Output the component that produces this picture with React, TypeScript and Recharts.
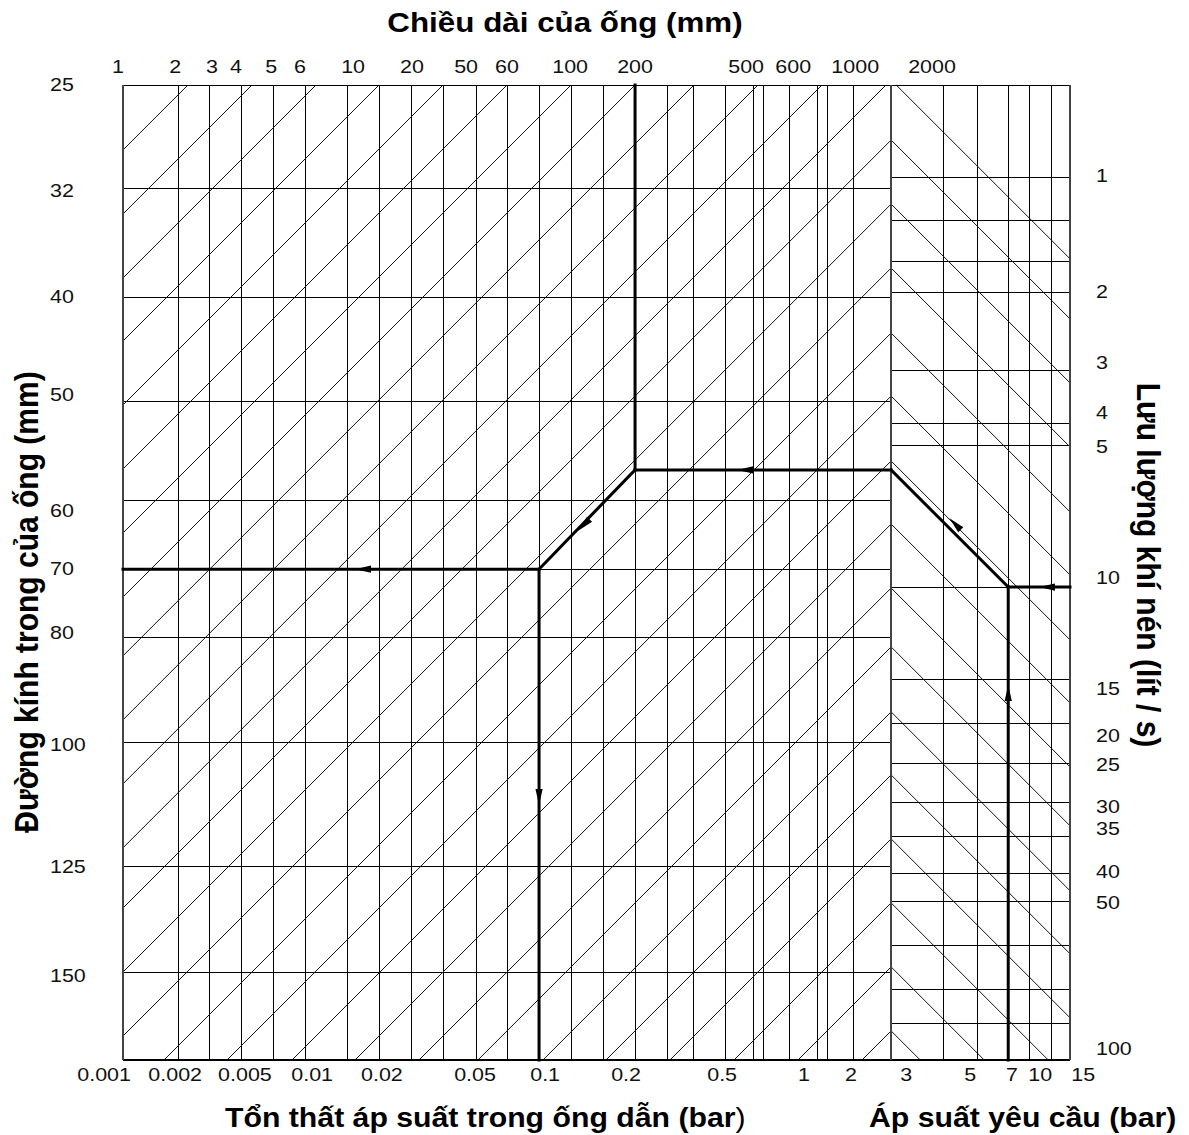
import React from 'react';
import { ComposedChart, XAxis, YAxis, ReferenceLine, ReferenceDot, Scatter } from 'recharts';

// ---------- layout ----------
const CHART_W = 1189;
const CHART_H = 1135;
const MARGIN = { top: 85, right: 119, bottom: 75, left: 123 };
// nomogram units: one grid cell = 1 unit
const X_MAX = 29.59;
const Y_MAX = 30.47;
const DIVIDER = 24;
const FONT = '"Liberation Sans", Arial, Helvetica, sans-serif';
const STRETCH = 1.13;

// ---------- scale labels (position on the nomogram, label text) ----------
const lengthLabels = ['1', '2', '3', '4', '5', '6', '10', '20', '50', '60', '100', '200', '500', '600', '1000', '2000'];
const lengthPos = [-0.16, 1.63, 2.78, 3.53, 4.63, 5.53, 7.19, 9.03, 10.72, 12.0, 13.97, 16.0, 19.47, 20.94, 22.88, 25.28];

const dropLabels = ['0.001', '0.002', '0.005', '0.01', '0.02', '0.05', '0.1', '0.2', '0.5', '1', '2'];
const dropPos = [-0.59, 1.63, 3.81, 5.91, 8.09, 11.0, 13.19, 15.72, 18.72, 21.28, 22.75];

const pressureLabels = ['3', '5', '7', '10', '15'];
const pressurePos = [24.47, 26.47, 27.78, 28.66, 30.0];

const diameterLabels = ['25', '32', '40', '50', '60', '70', '80', '100', '125', '150'];
const diameterPos = [-0.03, 3.28, 6.59, 9.66, 13.28, 15.09, 17.09, 20.59, 24.41, 27.81];

const flowLabels = ['1', '2', '3', '4', '5', '10', '15', '20', '25', '30', '35', '40', '50', '100'];
const flowPos = [2.81, 6.44, 8.66, 10.22, 11.28, 15.38, 18.84, 20.31, 21.22, 22.53, 23.22, 24.56, 25.53, 30.09];

// ---------- grid lines ----------
const lengthLines = [1.72, 2.69, 3.69, 4.69, 5.69, 7.03, 8, 9.03, 10, 11.03, 12, 13, 14, 15, 16, 17, 17.84, 18.84, 19.69, 20, 20.84, 21.69, 22, 22.84];
const diameterLines = [3.22, 6.63, 9.88, 12.97, 15.13, 17.28, 20.56, 24.41, 27.72];
const pressureLines = [25.63, 26.69, 27.66, 28.34, 29.0];
const flowLines = [2.88, 4.25, 5.53, 6.47, 8.91, 10.59, 11.28, 15.69, 18.59, 19.94, 21.19, 22.41, 23.5, 24.63, 25.53, 26.88, 28.28, 29.34];
// diagonal families: x + y = sum (left panel), mirrored at the divider (right panel)
const diagonalSums = [2.03, 4.03, 6.03, 8.0, 10.0, 12.0, 14.0, 16.0, 17.84, 19.84, 21.84, 23.84, 25.72, 27.72, 29.72, 31.75, 33.72, 35.75, 37.72, 39.72, 41.56, 43.59, 45.56, 47.56, 49.56, 51.56, 53.56];

// ---------- worked example route ----------
const routeFlow = 15.69;      // 10 l/s
const routePressure = 27.66;  // 7 bar
const routeTurn = 12.03;
const routeLength = 16;       // 200 m
const routeDiameter = 15.13;  // 70 mm
const routeDrop = 13;         // 0.1 bar
const arrows = [
  { x: 28.87, y: routeFlow, angle: 180 },
  { x: routePressure, y: 19.0, angle: -90 },
  { x: 26.0, y: 13.72, angle: 225 },
  { x: 19.44, y: routeTurn, angle: 180 },
  { x: 14.4, y: 13.75, angle: 135 },
  { x: 7.5, y: routeDiameter, angle: 180 },
  { x: routeDrop, y: 22.25, angle: 90 },
];

type P = { x: number; y: number };
type Seg = { a: P; b: P; stroke: string; w: number; crisp: boolean };

const GRID = '#000';
const FRAME = '#444';
const DIAG = '#111';
const segs: Seg[] = [];
lengthLines.forEach((x) => segs.push({ a: { x, y: 0 }, b: { x, y: Y_MAX }, stroke: GRID, w: 1, crisp: true }));
diameterLines.forEach((y) => segs.push({ a: { x: 0, y }, b: { x: DIVIDER, y }, stroke: GRID, w: 1, crisp: true }));
pressureLines.forEach((x) => segs.push({ a: { x, y: 0 }, b: { x, y: Y_MAX }, stroke: GRID, w: 1, crisp: true }));
flowLines.forEach((y) => segs.push({ a: { x: DIVIDER, y }, b: { x: X_MAX, y }, stroke: GRID, w: 1, crisp: true }));
diagonalSums.forEach((c) => {
  const x0 = Math.max(0, c - Y_MAX);
  const x1 = Math.min(DIVIDER, c);
  segs.push({ a: { x: x0, y: c - x0 }, b: { x: x1, y: c - x1 }, stroke: DIAG, w: 1, crisp: false });
  if (c > DIVIDER - 0.5) {
    const peak = c - DIVIDER;
    const start = peak < 0 ? { x: DIVIDER - peak, y: 0 } : { x: DIVIDER, y: peak };
    let endY = peak + (X_MAX - DIVIDER);
    let endX = X_MAX;
    if (endY > Y_MAX) {
      endX = DIVIDER + (Y_MAX - peak);
      endY = Y_MAX;
    }
    segs.push({ a: start, b: { x: endX, y: endY }, stroke: DIAG, w: 1, crisp: false });
  }
});
// frame
segs.push({ a: { x: 0, y: 0 }, b: { x: X_MAX, y: 0 }, stroke: GRID, w: 1, crisp: true });
segs.push({ a: { x: 0, y: Y_MAX }, b: { x: X_MAX, y: Y_MAX }, stroke: GRID, w: 1.5, crisp: true });
segs.push({ a: { x: 0, y: 0 }, b: { x: 0, y: Y_MAX }, stroke: FRAME, w: 2, crisp: true });
segs.push({ a: { x: X_MAX, y: 0 }, b: { x: X_MAX, y: Y_MAX }, stroke: FRAME, w: 2, crisp: true });
segs.push({ a: { x: DIVIDER, y: 0 }, b: { x: DIVIDER, y: Y_MAX }, stroke: FRAME, w: 2, crisp: true });

const routeSegs: [P, P][] = [
  [{ x: X_MAX, y: routeFlow }, { x: routePressure, y: routeFlow }],
  [{ x: routePressure, y: Y_MAX }, { x: routePressure, y: routeFlow }],
  [{ x: routePressure, y: routeFlow }, { x: DIVIDER, y: routeTurn }],
  [{ x: DIVIDER, y: routeTurn }, { x: routeLength, y: routeTurn }],
  [{ x: routeLength, y: routeTurn }, { x: routeLength, y: 0 }],
  [{ x: routeLength, y: routeTurn }, { x: routeDrop, y: routeDiameter }],
  [{ x: routeDrop, y: routeDiameter }, { x: 0, y: routeDiameter }],
  [{ x: routeDrop, y: routeDiameter }, { x: routeDrop, y: Y_MAX }],
];

// ---------- renderers ----------
const tickText = (x: number, y: number, label: string, anchor: 'start' | 'middle' | 'end') => (
  <text
    x={0}
    y={0}
    dy="0.36em"
    transform={`translate(${x},${y}) scale(${STRETCH},1)`}
    textAnchor={anchor}
    fontSize={19}
    fontFamily={FONT}
    fill="#111"
  >
    {label}
  </text>
);

type LabelSpec = { x: number; y: number; label: string; dx: number; dy: number; anchor: 'start' | 'middle' };
const labelSpecs: LabelSpec[] = [
  ...lengthPos.map((x, i) => ({ x, y: 0, label: lengthLabels[i], dx: 0, dy: -19, anchor: 'middle' as const })),
  ...dropPos.map((x, i) => ({ x, y: Y_MAX, label: dropLabels[i], dx: 0, dy: 14, anchor: 'middle' as const })),
  ...pressurePos.map((x, i) => ({ x, y: Y_MAX, label: pressureLabels[i], dx: 0, dy: 14, anchor: 'middle' as const })),
  ...diameterPos.map((y, i) => ({ x: 0, y, label: diameterLabels[i], dx: -73, dy: 0, anchor: 'start' as const })),
  ...flowPos.map((y, i) => ({ x: X_MAX, y, label: flowLabels[i], dx: 26, dy: 0, anchor: 'start' as const })),
];

const ArrowHead = (props: any) => {
  const { cx, cy, payload } = props;
  if (cx == null || cy == null) return <g />;
  return <polygon points="8,0 -8,-3.6 -8,3.6" fill="#000" transform={`translate(${cx},${cy}) rotate(${payload.angle})`} />;
};

export default function App() {
  return (
    <div style={{ position: 'absolute', left: 0, top: 0, width: CHART_W, height: CHART_H, background: '#fff' }}>
      <ComposedChart width={CHART_W} height={CHART_H} margin={MARGIN}>
        <XAxis type="number" dataKey="x" domain={[0, X_MAX]} allowDataOverflow hide />
        <YAxis type="number" dataKey="y" domain={[0, Y_MAX]} allowDataOverflow reversed hide />

        {segs.map((s, i) => (
          <ReferenceLine
            key={`g${i}`}
            segment={[s.a, s.b]}
            stroke={s.stroke}
            strokeWidth={s.w}
            shapeRendering={s.crisp ? 'crispEdges' : 'auto'}
            ifOverflow="visible"
          />
        ))}
        {routeSegs.map((s, i) => (
          <ReferenceLine key={`r${i}`} segment={s} stroke="#000" strokeWidth={3} strokeLinecap="square" ifOverflow="visible" />
        ))}
        <Scatter data={arrows} shape={ArrowHead} isAnimationActive={false} />
        {labelSpecs.map((l, i) => (
          <ReferenceDot
            key={`l${i}`}
            x={l.x}
            y={l.y}
            r={0}
            ifOverflow="visible"
            shape={(p: any) => tickText(p.cx + l.dx, p.cy + l.dy, l.label, l.anchor)}
          />
        ))}
      </ComposedChart>

      <svg
        width={CHART_W}
        height={CHART_H}
        style={{ position: 'absolute', left: 0, top: 0, pointerEvents: 'none' }}
        fontFamily={FONT}
        fontWeight="bold"
        fill="#000"
      >
        <text transform={`translate(565,32) scale(1.12,1)`} textAnchor="middle" fontSize={28}>
          Chiều dài của ống (mm)
        </text>
        <text transform={`translate(225,1127) scale(1.12,1)`} textAnchor="start" fontSize={27}>
          Tổn thất áp suất trong ống dẫn (bar<tspan fontWeight="normal">)</tspan>
        </text>
        <text transform={`translate(869,1127) scale(1.12,1)`} textAnchor="start" fontSize={27}>
          Áp suất yêu cầu (bar)
        </text>
        <text transform={`translate(26,602) scale(1.12,1) rotate(-90)`} textAnchor="middle" dy="0.36em" fontSize={30}>
          Đường kính trong của ống (mm)
        </text>
        <text transform={`translate(1149,565) scale(1.12,1) rotate(90)`} textAnchor="middle" dy="0.36em" fontSize={30}>
          Lưu lượng khí nén (lít / s)
        </text>
      </svg>
    </div>
  );
}
